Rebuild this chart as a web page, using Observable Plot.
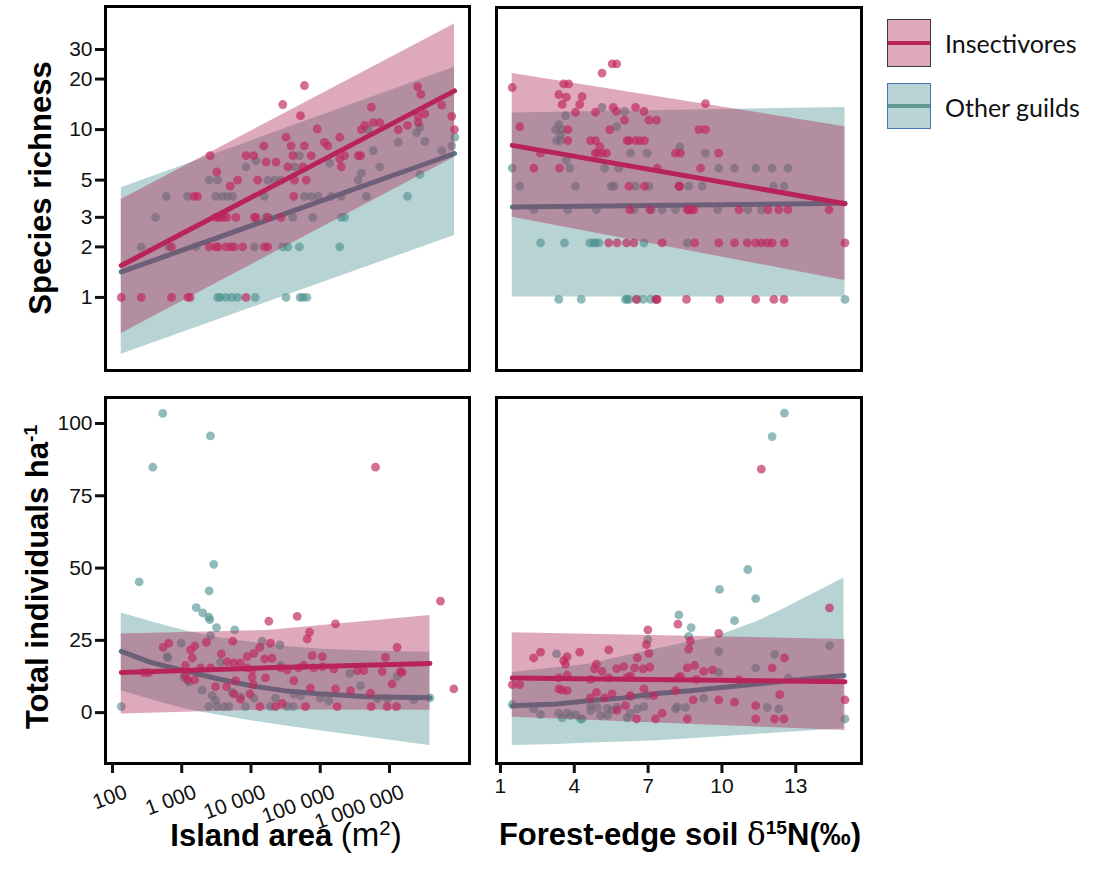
<!DOCTYPE html>
<html><head><meta charset="utf-8">
<script src="https://cdn.jsdelivr.net/npm/d3@7"></script>
<script src="https://cdn.jsdelivr.net/npm/@observablehq/plot@0.6"></script>
<style>
body{margin:0;background:#fff;}
#wrap{position:relative;width:1102px;height:876px;background:#fff;font-family:"Liberation Sans",Arial,sans-serif;overflow:hidden;color:#000}
.panel{position:absolute}
.panel svg text{font-family:"Liberation Sans",Arial,sans-serif !important;font-size:21px !important;fill:#111}
.lab{position:absolute;font-weight:bold;font-size:31px;white-space:nowrap;transform:translate(-50%,-50%);line-height:1}
.ylab{transform:translate(-50%,-50%) rotate(-90deg)}
.lab sup{font-size:62%;vertical-align:0;position:relative;top:-0.55em}
.legbox{position:absolute;width:44px;box-sizing:border-box}
.legbox i{position:absolute;left:0;right:0;top:50%;height:4px;margin-top:-2px}
.legtxt{position:absolute;font-family:Lato,"Open Sans",sans-serif;font-size:25px;transform:translateY(-50%);white-space:nowrap;color:#111}
</style></head>
<body><div id="wrap"></div>
<script>
// ---------- tick values ----------
const richTicks = [1, 2, 3, 5, 10, 20, 30];
const richTickLabels = ["1", "2", "3", "5", "10", "20", "30"];
const abTicks = [0, 25, 50, 75, 100];
const abTickLabels = ["0", "25", "50", "75", "100"];
const areaTicks = [100, 1000, 10000, 100000, 1000000];
const areaTickLabels = ["100", "1 000", "10 000", "100 000", "1 000 000"];
const n15Ticks = [1, 4, 7, 10, 13];
const n15TickLabels = ["1", "4", "7", "10", "13"];
const guilds = ["Insectivores", "Other guilds"];

// ---------- species richness vs island area ----------
const richAreaIns = [
 [134,1],[260,1],[710,1],[1230,1],[1320,1],[8470,1],
 [710,2],[2490,2],[3110,2],[3360,2],[4340,2],[5130,2],[5730,2],[7590,2],[15600,2],[17500,2],
 [3110,3],[3360,3],[3670,3],[4020,3],[4490,3],[6070,3],[11200,3],[11800,3],[17500,3],[27200,3],
 [1510,4],[1690,4],[41600,4],
 [6410,5],[12500,5],[42500,5],[62700,5],
 [2570,7],[3210,5.6],[5010,4.6],[8470,7],[10900,7],[15300,8],[16500,6.4],[23000,6.4],[28800,14.1],
 [32100,9],[34000,6],[38000,8],[40200,7],[51900,12.1],[56100,6],[59200,18.3],[59200,8],[74100,7],
 [90500,10.1],[115000,8.4],[129000,8],[191000,9],[191000,6.7],[201000,6],[225000,7],[352000,7],
 [384000,7],[393000,10],[438000,10.6],[548000,13.6],[581000,11],[723000,11],[1340000,10],
 [1820000,10.6],[2550000,18],[2840000,16.2],[2600000,12],[3240000,12.4],[2600000,11],[5680000,14],
 [7930000,12],[8670000,10]
];
const richAreaOth = [
 [3290,1],[3590,1],[4340,1],[5310,1],[6410,1],[11500,1],[32100,1],[51300,1],[56100,1],[64100,1],
 [260,2],[650,2],[1590,2],[11200,2],[28800,2],[34000,2],[50000,2],[191000,2],
 [420,3],[16500,3],[40200,3],[78300,3],[201000,3],[225000,3],
 [600,4],[1210,4],[3110,4],[3890,4],[4590,4],[5430,4],[15600,4],[59200,4],[74100,4],[92700,4],
 [144000,4],[201000,4],[464000,4],[1820000,4],
 [2490,5],[3290,5],[17500,5],[21800,5],[27200,5],[352000,5],
 [8470,6],[11800,6.5],[42500,6],[50000,7],[137000,6.3],[393000,5.5],[490000,10],[581000,7.5],
 [723000,6],[1340000,8.4],[2460000,9.6],[2750000,10.3],[3240000,8.5],[5680000,7.5],[7930000,8],
 [2750000,5.4],[8800000,9]
];
const richAreaInsFit = [
 {x:134, fit:1.55, lo:0.61, hi:3.83},
 {x:8700000, fit:17, lo:6.84, hi:42.6}
];
const richAreaOthFit = [
 {x:134, fit:1.42, lo:0.458, hi:4.5},
 {x:8700000, fit:7.2, lo:2.34, hi:23.5}
];

// ---------- species richness vs soil d15N ----------
const richN15Ins = [
 [6.52,1],[7.33,1],[7.37,1],[8.56,1],[9.91,1],[11.37,1],[12.11,1],[12.52,1],
 [5.4,2],[5.74,2],[6.12,2],[6.42,2],[7.57,2],[8.89,2],[9.87,2],[10.51,2],[11.03,2],[11.37,2],
 [11.6,2],[11.84,2],[12.04,2],[12.54,2],[15.0,2],
 [6.26,3],[7.07,3],[8.59,3],[8.66,3],[8.75,3],[8.86,3],[10.69,3],[11.87,3],[12.31,3],[12.68,3],[14.35,3],
 [6.22,4],[6.85,4],[8.25,4],[8.29,4],
 [2.36,5],[3.4,5],[7.37,5],[9.13,5],
 [2.63,6],[4.86,6],[4.93,6],[5.13,6],[5.31,6],[8.11,6],[8.32,6],[9.87,6],
 [3.74,7],[4.66,7],[4.86,7],[6.15,7],[6.22,7],[6.49,7],[6.66,7],[6.85,7],
 [3.74,8],[5.44,8],[9.06,8],[9.33,8],
 [1.48,13.4],[1.78,8.3],[3.37,12.3],[3.51,10.9],[3.57,14],[3.77,14],[3.68,11.9],[4.32,12],
 [4.22,10.9],[4.05,9.9],[4.86,9.9],[5.13,16],[5.54,17.9],[5.72,17.9],[5.58,10.5],[5.71,10],
 [6.04,9],[6.49,10.5],[6.83,10],[7.03,9],[7.34,9],[9.33,11],[5.04,6.5]
];
const richN15Oth = [
 [3.37,1],[4.28,1],[6.08,1],[6.15,1],[6.22,1],[6.56,1],[6.8,1],[7.1,1],[7.3,1],[15.0,1],
 [2.63,2],[3.6,2],[4.63,2],[4.79,2],[4.86,2],[5.0,2],[6.83,2],[8.59,2],
 [2.36,3],[3.74,3],[4.9,3],[6.42,3],[7.13,3],[7.57,3],[8.11,3],[9.83,3],[11.05,3],[11.6,3],
 [1.78,4],[4.05,4],[5.5,4],[5.61,4],[6.49,4],[7.03,4],[8.25,4],[8.65,4],[9.2,4],[12.1,4],[12.52,4],
 [1.48,5],[3.82,5],[5.23,5],[5.81,5],[9.87,5],[10.51,5],[11.37,5],[12.04,5],[12.68,5],
 [9.33,6],[6.28,6],[6.96,6],[3.28,7],[3.44,7],[3.24,8],[3.5,8],
 [3.64,9.5],[5.13,10.5],[6.04,10],[5.72,8.3],[3.37,8.5],[3.44,7.5],[8.29,6.5],[3.68,5.5]
];
const richN15InsFit = [
 {x:1.48, fit:6.6, lo:2.74, hi:15.9},
 {x:15.0, fit:3.23, lo:1.26, hi:8.3}
];
const richN15OthFit = [
 {x:1.48, fit:3.1, lo:1.03, hi:9.8},
 {x:15.0, fit:3.25, lo:1.03, hi:10.5}
];

// ---------- abundance vs island area ----------
const abAreaIns = [
 [18100,31.6],[46500,33.3],[166000,30.7],[70000,27.8],[64900,25.5],[1290000,22.6],[540,22.6],[650,24],
 [1340,21.7],[1540,23.1],[2280,24.3],[5460,24.7],[19100,24],[1420,18.9],[3720,20.3],[4530,17.6],
 [8810,19.4],[11000,20.5],[13400,22.6],[15800,18.6],[20200,18.8],[5650,17.2],[7050,17.2],[76600,19.7],
 [107000,19.4],[875000,19.1],[1130,16.3],[1870,15.5],[2600,15.5],[8810,15.5],[10500,14.8],[26700,15.5],
 [33300,14.8],[49000,15.5],[57800,16.3],[80700,15.5],[107000,15.9],[157000,15.1],[342000,14.5],
 [426000,14.5],[785000,14.2],[1440000,14.2],[1130,12.8],[1220,11.3],[1540,11.3],[3070,9],[4430,9],
 [5970,11.1],[10400,12.2],[10800,9.7],[16200,12],[5650,6.5],[9610,6.5],[7050,4.7],[13400,2.1],
 [22600,2.1],[28200,3.2],[61200,2.1],[41500,11.1],[72300,8.5],[166000,8.2],[274000,7.6],[176000,2.1],
 [544000,2.1],[927000,2.1],[1260000,2.1],[532000,6.7],[1090000,9.9],[1520000,13.9],[283,13.8],[334,13.8],
 [628000,84.9],[5450000,38.6],[8490000,8.2]
];
const abAreaOth = [
 [134,2.1],[532,103.5],[382,84.9],[2600,95.7],[2900,51.3],[243,45.2],[2490,42.1],[1620,36.3],[2010,34.5],
 [2460,33],[2540,32.2],[3180,29.4],[5830,28.6],[617,19.4],[982,24],[2600,26.6],[14500,24.7],[26100,23.4],
 [3630,17.4],[1070,12.2],[1270,10.5],[1970,7.8],[2750,5.9],[3070,4.2],[2460,2.1],[3250,2.1],[4050,2.1],
 [4780,2.1],[5350,7],[7050,5.5],[8340,2.1],[11000,5],[19100,2.1],[22600,5],[33300,2.1],[40700,2.1],
 [41500,6.5],[51900,5.9],[26700,16.3],[101000,5],[133000,4.1],[267000,13.6],[381000,9.3],[664000,4.8],
 [927000,4.8],[1290000,12.5],[2250000,4.5],[3840000,5.1],[630,18.9]
];
const abAreaInsFit = [
 {x:134, fit:13.9, lo:-0.5, hi:27.2},
 {x:17500, fit:15.5, lo:0.9, hi:28.4},
 {x:3840000, fit:17, lo:0.8, hi:33.6}
];
const abAreaOthFit = [
 {x:134, fit:21.2, lo:7.6, hi:34.5},
 {x:356, fit:17.4, lo:4.5, hi:31.5},
 {x:1080, fit:14.5, lo:1.3, hi:28.4},
 {x:3290, fit:11.7, lo:-0.8, hi:26},
 {x:10000, fit:9.3, lo:-2.8, hi:24.3},
 {x:30400, fit:7.6, lo:-4.5, hi:23},
 {x:92500, fit:6.5, lo:-6.2, hi:22},
 {x:488000, fit:5.5, lo:-8.5, hi:21.3},
 {x:3840000, fit:5.1, lo:-11.4, hi:20.9}
];

// ---------- abundance vs soil d15N ----------
const abN15Ins = [
 [6.99,28.6],[2.35,18.9],[2.63,20.9],[3.57,18],[3.71,19.4],[3.64,16.8],[4.22,20.9],[5.4,21.7],[4.9,16.8],
 [4.82,15.1],[5.13,14.3],[5.72,15.2],[6.01,15.9],[6.28,12.7],[6.45,15.5],[6.8,15.1],[6.56,18.9],[6.93,23.5],
 [7.07,15.7],[7.03,20.5],[8.22,12],[8.59,15.5],[8.65,22],[8.72,24.7],[8.89,16.3],[9.26,14.3],[9.61,14.8],
 [9.87,27.4],[12.04,15.5],[12.54,18.9],[14.37,36.2],[11.6,84.2],[8.21,30.6],[1.48,9.7],[1.78,9.7],
 [3.37,8.2],[3.51,7.8],[3.71,7.6],[4.66,5.1],[4.9,7],[5.23,5.1],[5.54,6.5],[5.74,0.9],[6.08,2.4],[6.28,5.9],
 [6.83,8.2],[7.23,5.9],[7.57,-0.2],[6.53,-2.2],[7.3,-2.2],[8.11,7.6],[8.59,-2.2],[8.83,4.4],[9.87,4.4],
 [10.51,3.6],[11.37,2.4],[11.37,-2.2],[12.14,-2.2],[12.35,6.2],[12.52,-2.2],[15.0,4.4],
 [3.37,12],[3.71,13],[4.66,11.5],[5.4,12],[6.15,12.2],[8.32,12.5],[8.97,11.5],[10.69,11.3]
];
const abN15Oth = [
 [12.54,103.6],[12.04,95.5],[11.05,49.5],[9.9,42.6],[11.37,39.4],[10.51,31.8],[8.25,33.8],[8.75,29.4],
 [8.65,26.4],[6.99,25.2],[14.37,23.2],[1.48,2.8],[2.35,1.3],[2.63,-0.7],[3.37,-0.2],[3.51,-1.8],[3.71,-0.2],
 [3.85,-1],[4.05,-0.7],[4.32,-2.2],[4.66,0.7],[4.93,1.8],[5.07,-1],[5.34,-1],[5.54,0.9],[5.74,1.8],
 [6.15,-1.8],[6.28,-0.2],[6.56,1.3],[6.83,2.1],[8.11,1.3],[8.52,1.8],[9.87,13.9],[9.87,21.2],[11.37,15.5],
 [11.84,1.8],[12.14,20.1],[12.31,1.3],[12.7,12],[15.0,-2.2],[3.28,20.3],[4.25,-2.2],
 [4.66,2.5],[5.34,1.5],[6.28,5.5],[6.96,6],[8.18,2],[9.26,5]
];
const abN15InsFit = [
 {x:1.48, fit:12, lo:-1.6, hi:27.6},
 {x:15.0, fit:10.7, lo:-6.2, hi:25.3}
];
const abN15OthFit = [
 {x:1.48, fit:2.4, lo:-11.4, hi:13.9},
 {x:3.3, fit:3.0, lo:-11, hi:15.5},
 {x:4.66, fit:4.2, lo:-10.5, hi:16.8},
 {x:6.01, fit:5.1, lo:-10.2, hi:19.5},
 {x:7.37, fit:6.6, lo:-9.7, hi:22},
 {x:8.72, fit:7.6, lo:-9, hi:24.5},
 {x:9.67, fit:8.4, lo:-8.5, hi:26},
 {x:11.43, fit:9.9, lo:-7.5, hi:31.5},
 {x:12.38, fit:10.8, lo:-7, hi:35.3},
 {x:14.96, fit:12.8, lo:-5.6, hi:46.6}
];

// ---------- styling ----------
const PINK = "rgb(170,40,85)";
const TEAL = "rgb(77,145,145)";
const PINK_PT = "#c0285e";
const TEAL_PT = "#4d9191";
const PINK_LINE = "#b8245a";
const TEAL_LINE = "#46848f";
const FONT = "'Liberation Sans', Arial, sans-serif";

function fmt(ticks, labels) { return d => labels[ticks.indexOf(d)]; }

function panel(cfg) {
  const marks = [
    Plot.areaY(cfg.othFit, {x: "x", y1: "lo", y2: "hi", fill: TEAL, fillOpacity: 0.4}),
    Plot.dot(cfg.othPts, {x: d => d[0], y: d => d[1], r: 4.4, fill: TEAL_PT, fillOpacity: 0.62}),
    Plot.line(cfg.othFit, {x: "x", y: "fit", stroke: TEAL_LINE, strokeWidth: 5}),
    Plot.areaY(cfg.insFit, {x: "x", y1: "lo", y2: "hi", fill: PINK, fillOpacity: 0.4}),
    Plot.dot(cfg.insPts, {x: d => d[0], y: d => d[1], r: 4.4, fill: PINK_PT, fillOpacity: 0.68}),
    Plot.line(cfg.insFit, {x: "x", y: "fit", stroke: PINK_LINE, strokeWidth: 5}),
    Plot.frame({stroke: "#000", strokeWidth: 3}),
    ...(cfg.axes || [])
  ];
  const svg = Plot.plot({
    width: cfg.w, height: cfg.h,
    marginLeft: cfg.ml, marginRight: cfg.mr, marginTop: cfg.mt, marginBottom: cfg.mb,
    x: Object.assign({domain: cfg.xd, type: cfg.xt}, cfg.xAxis ? {} : {axis: null}),
    y: Object.assign({domain: cfg.yd, type: cfg.yt}, cfg.yAxis ? {} : {axis: null}),
    style: {fontFamily: FONT, fontSize: "21px", background: "transparent", color: "#111", overflow: "visible"},
    marks
  });
  const div = document.createElement("div");
  div.className = "panel";
  div.style.left = cfg.left + "px";
  div.style.top = cfg.top + "px";
  div.appendChild(svg);
  document.getElementById("wrap").appendChild(div);
}

const areaDomain = [79.3, 1.43e7];
const n15Domain = [0.84, 15.67];
const abDomain = [-17.6, 109.0];

const yRichAxis = Plot.axisY({ticks: richTicks, tickFormat: fmt(richTicks, richTickLabels), tickSize: 10, tickPadding: 3, strokeWidth: 3, fontSize: 21, label: null});
const yAbAxis = Plot.axisY({ticks: abTicks, tickFormat: fmt(abTicks, abTickLabels), tickSize: 10, tickPadding: 3, strokeWidth: 3, fontSize: 21, label: null});
// area axis: tick marks from the axis, rotated labels as a text mark on the same x scale
const xAreaTicks = Plot.axisX({ticks: areaTicks, tickFormat: () => "", tickSize: 10, strokeWidth: 3, label: null});
const xAreaLabels = Plot.text(areaTicks, {
  x: d => d, text: d => areaTickLabels[areaTicks.indexOf(d)],
  frameAnchor: "bottom", rotate: -20, textAnchor: "end", lineAnchor: "top",
  dx: 11, dy: 20, fontSize: 21
});
const xN15Axis = Plot.axisX({ticks: n15Ticks, tickFormat: fmt(n15Ticks, n15TickLabels), tickSize: 10, tickPadding: 5, strokeWidth: 3, fontSize: 21, label: null});

panel({left: 0, top: 0, w: 480, h: 380, ml: 105, mr: 11, mt: 6, mb: 10,
  xd: areaDomain, xt: "log", yd: [0.367, 54.1], yt: "log", yAxis: true, axes: [yRichAxis],
  insPts: richAreaIns, othPts: richAreaOth, insFit: richAreaInsFit, othFit: richAreaOthFit});
panel({left: 480, top: 0, w: 390, h: 380, ml: 16, mr: 9, mt: 7, mb: 10,
  xd: n15Domain, xt: "linear", yd: [0.419, 35.7], yt: "log",
  insPts: richN15Ins, othPts: richN15Oth, insFit: richN15InsFit, othFit: richN15OthFit});
panel({left: 0, top: 380, w: 480, h: 470, ml: 105, mr: 11, mt: 17, mb: 87,
  xd: areaDomain, xt: "log", yd: abDomain, yt: "linear", xAxis: true, yAxis: true,
  axes: [yAbAxis, xAreaTicks, xAreaLabels],
  insPts: abAreaIns, othPts: abAreaOth, insFit: abAreaInsFit, othFit: abAreaOthFit});
panel({left: 480, top: 380, w: 390, h: 470, ml: 16, mr: 9, mt: 17, mb: 87,
  xd: n15Domain, xt: "linear", yd: abDomain, yt: "linear", xAxis: true, axes: [xN15Axis],
  insPts: abN15Ins, othPts: abN15Oth, insFit: abN15InsFit, othFit: abN15OthFit});

// ---------- labels and legend ----------
const wrap = document.getElementById("wrap");
function addHTML(html) { wrap.insertAdjacentHTML("beforeend", html); }
addHTML(`<div class="lab ylab" style="left:40px;top:188px">Species richness</div>`);
addHTML(`<div class="lab ylab" style="left:37px;top:577px">Total individuals ha<sup>-1</sup></div>`);
addHTML(`<div class="lab" style="left:286px;top:834px">Island area <span style="font-weight:normal;font-size:33px">(m<sup>2</sup>)</span></div>`);
addHTML(`<div class="lab" style="left:680px;top:834px">Forest-edge soil <span style="font-weight:normal;font-family:'DejaVu Serif',serif">δ</span><sup>15</sup>N(‰)</div>`);
addHTML(`<div class="legbox" style="left:887px;top:19px;height:48px;background:#dea9bb;border:1.5px solid #3a3a3a"><i style="background:${PINK_LINE}"></i></div>`);
addHTML(`<div class="legbox" style="left:887px;top:83px;height:46px;background:#b8d4d4;border:1.5px solid #4a72b8"><i style="background:#5e9995"></i></div>`);
addHTML(`<div class="legtxt" style="left:945px;top:43px">${guilds[0]}</div>`);
addHTML(`<div class="legtxt" style="left:945px;top:107px">${guilds[1]}</div>`);
</script>
</body></html>
